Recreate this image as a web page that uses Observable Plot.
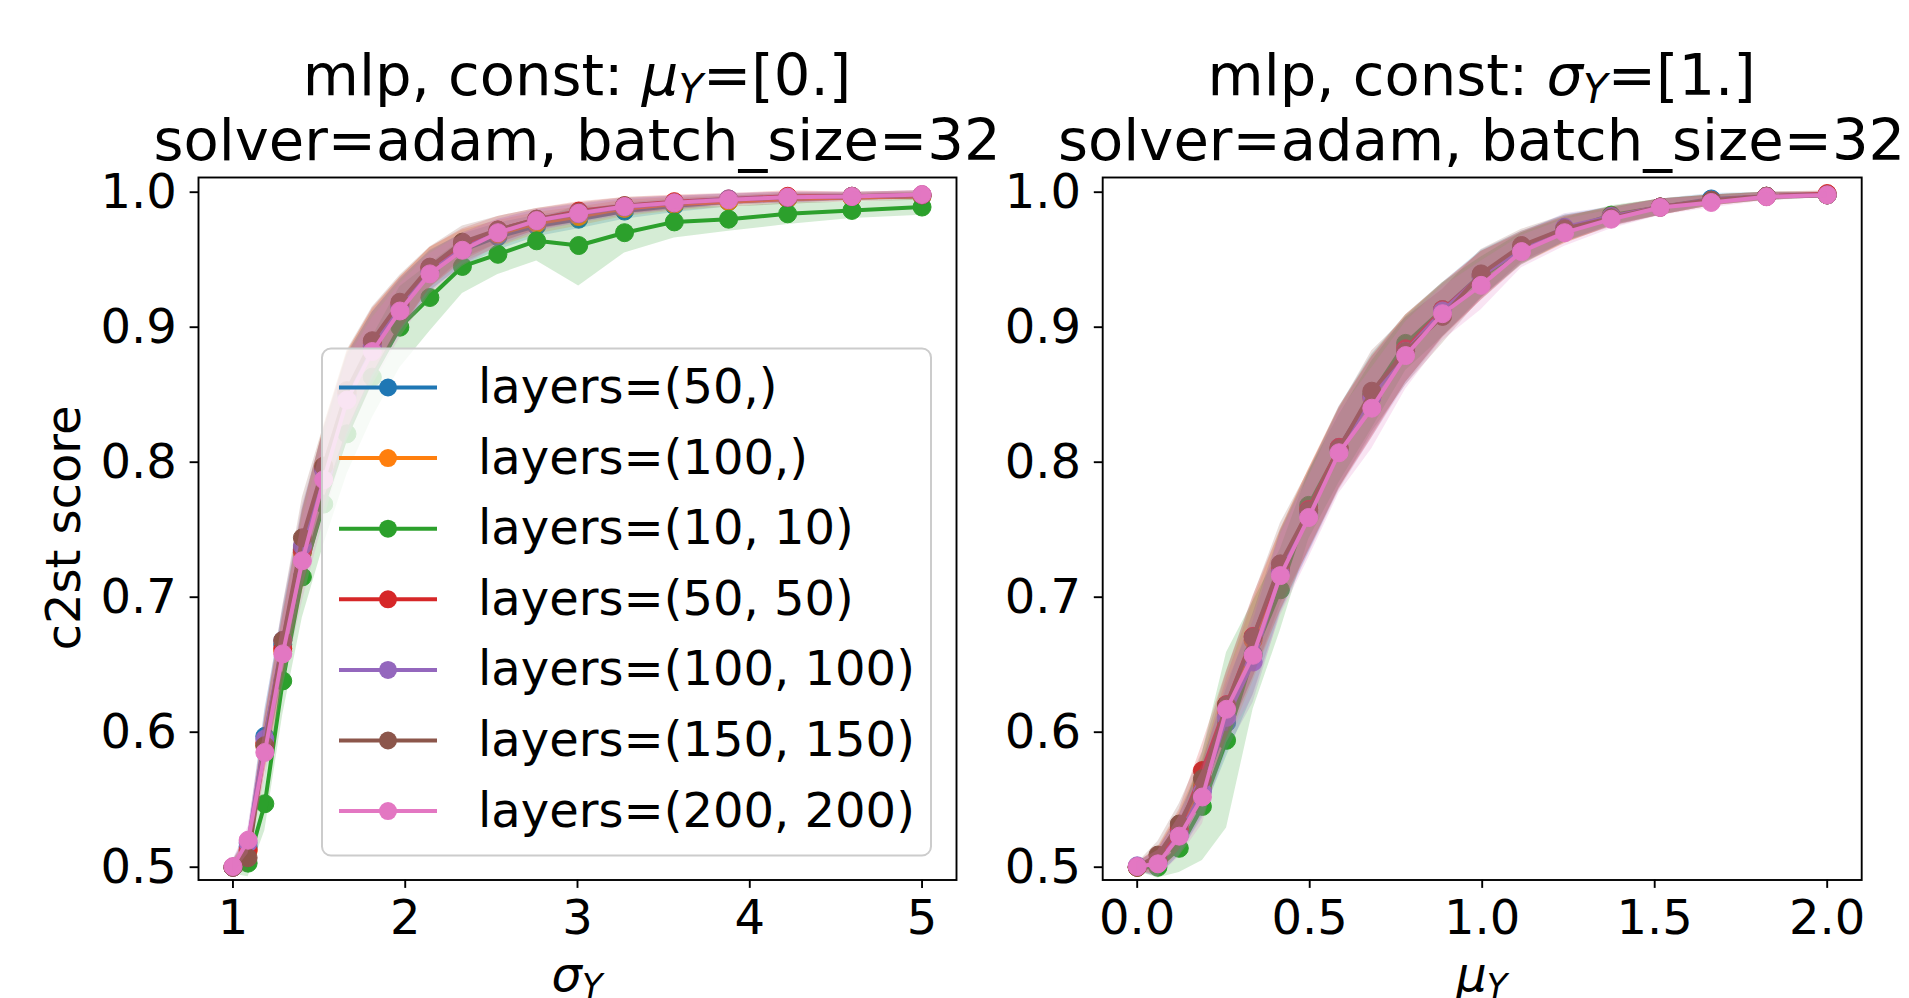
<!DOCTYPE html>
<html><head><meta charset="utf-8">
<script src="https://cdn.jsdelivr.net/npm/d3@7"></script>
<script src="https://cdn.jsdelivr.net/npm/@observablehq/plot@0.6"></script>
<style>
body{margin:0;background:#fff;}
#wrap{position:relative;width:1909px;height:998px;overflow:hidden;font-family:"DejaVu Sans";background:#fff;}
#wrap svg{position:absolute;top:0;}
</style></head><body><div id="wrap"></div>
<script>
// ---------- data ----------
const seriesNames = ["layers=(50,)", "layers=(100,)", "layers=(10, 10)", "layers=(50, 50)", "layers=(100, 100)", "layers=(150, 150)", "layers=(200, 200)"];
const seriesColors = ["#1f77b4", "#ff7f0e", "#2ca02c", "#d62728", "#9467bd", "#8c564b", "#e377c2"];

// left panel: x = sigma_Y
const sigmaY = [1, 1.088, 1.185, 1.289, 1.403, 1.527, 1.662, 1.809, 1.969, 2.143, 2.332, 2.538, 2.763, 3.007, 3.273, 3.562, 3.877, 4.220, 4.593, 5.0];
const left_50      = [0.500, 0.515, 0.597, 0.665, 0.735, 0.795, 0.850, 0.886, 0.915, 0.942, 0.957, 0.967, 0.975, 0.980, 0.986, 0.990, 0.993, 0.995, 0.996, 0.997];
const left_100     = [0.500, 0.512, 0.590, 0.660, 0.733, 0.797, 0.852, 0.888, 0.917, 0.944, 0.960, 0.969, 0.977, 0.982, 0.988, 0.991, 0.993, 0.995, 0.996, 0.997];
const left_10_10   = [0.500, 0.503, 0.547, 0.638, 0.715, 0.769, 0.821, 0.863, 0.900, 0.922, 0.945, 0.954, 0.964, 0.9605, 0.970, 0.978, 0.980, 0.984, 0.9865, 0.989];
const left_50_50   = [0.500, 0.513, 0.592, 0.662, 0.735, 0.795, 0.851, 0.889, 0.917, 0.944, 0.961, 0.972, 0.980, 0.986, 0.990, 0.993, 0.995, 0.997, 0.997, 0.998];
const left_100_100 = [0.500, 0.518, 0.595, 0.668, 0.738, 0.794, 0.849, 0.886, 0.916, 0.941, 0.958, 0.970, 0.979, 0.984, 0.989, 0.992, 0.995, 0.996, 0.997, 0.998];
const left_150_150 = [0.500, 0.507, 0.590, 0.668, 0.744, 0.797, 0.853, 0.890, 0.9185, 0.9445, 0.963, 0.972, 0.980, 0.985, 0.990, 0.992, 0.9945, 0.996, 0.997, 0.998];
const left_200_200 = [0.5005, 0.520, 0.585, 0.658, 0.727, 0.787, 0.846, 0.882, 0.912, 0.9395, 0.957, 0.970, 0.979, 0.9844, 0.9894, 0.9921, 0.9944, 0.9963, 0.9968, 0.9983];
const leftSd       = [0.005, 0.010, 0.020, 0.025, 0.030, 0.030, 0.030, 0.025, 0.020, 0.015, 0.012, 0.010, 0.008, 0.007, 0.006, 0.005, 0.004, 0.004, 0.003, 0.003];
const leftSdGreen  = [0.005, 0.010, 0.020, 0.025, 0.030, 0.030, 0.030, 0.030, 0.030, 0.025, 0.020, 0.015, 0.015, 0.030, 0.015, 0.012, 0.009, 0.008, 0.006, 0.006];

// right panel: x = mu_Y
const muY = [0, 0.060, 0.122, 0.189, 0.259, 0.336, 0.415, 0.497, 0.585, 0.680, 0.778, 0.885, 0.997, 1.114, 1.239, 1.374, 1.516, 1.664, 1.824, 2.0];
const right_50      = [0.500, 0.503, 0.524, 0.558, 0.607, 0.658, 0.719, 0.763, 0.811, 0.850, 0.884, 0.913, 0.939, 0.959, 0.973, 0.982, 0.989, 0.995, 0.997, 0.998];
const right_100     = [0.500, 0.504, 0.526, 0.560, 0.615, 0.668, 0.720, 0.765, 0.810, 0.849, 0.884, 0.912, 0.938, 0.958, 0.972, 0.982, 0.989, 0.994, 0.997, 0.998];
const right_10_10   = [0.500, 0.500, 0.514, 0.545, 0.594, 0.657, 0.7055, 0.768, 0.810, 0.850, 0.888, 0.913, 0.937, 0.958, 0.972, 0.983, 0.989, 0.994, 0.997, 0.998];
const right_50_50   = [0.500, 0.505, 0.528, 0.5716, 0.6205, 0.671, 0.720, 0.765, 0.811, 0.848, 0.884, 0.913, 0.938, 0.959, 0.972, 0.982, 0.989, 0.994, 0.997, 0.999];
const right_100_100 = [0.501, 0.503, 0.524, 0.556, 0.611, 0.652, 0.718, 0.762, 0.809, 0.848, 0.882, 0.912, 0.938, 0.958, 0.974, 0.982, 0.989, 0.994, 0.997, 0.998];
const right_150_150 = [0.500, 0.509, 0.532, 0.5655, 0.620, 0.6704, 0.7247, 0.764, 0.810, 0.8526, 0.882, 0.908, 0.9395, 0.9605, 0.973, 0.981, 0.989, 0.994, 0.997, 0.998];
const right_200_200 = [0.5005, 0.5025, 0.523, 0.552, 0.617, 0.657, 0.716, 0.759, 0.807, 0.840, 0.879, 0.910, 0.931, 0.956, 0.970, 0.980, 0.9887, 0.9924, 0.9966, 0.998];
const rightSd       = [0.003, 0.010, 0.015, 0.020, 0.025, 0.030, 0.030, 0.030, 0.030, 0.030, 0.025, 0.020, 0.018, 0.012, 0.010, 0.007, 0.006, 0.004, 0.003, 0.002];
const rightSdGreen  = [0.003, 0.008, 0.018, 0.040, 0.065, 0.040, 0.030, 0.025, 0.025, 0.025, 0.020, 0.020, 0.015, 0.012, 0.009, 0.007, 0.006, 0.004, 0.003, 0.002];

const xTicksLeft = [1, 2, 3, 4, 5];
const xTicksRight = [0, 0.5, 1, 1.5, 2];
const yTicks = [0.5, 0.6, 0.7, 0.8, 0.9, 1.0];

// ---------- build ----------
const leftSeries = [left_50, left_100, left_10_10, left_50_50, left_100_100, left_150_150, left_200_200];
const rightSeries = [right_50, right_100, right_10_10, right_50_50, right_100_100, right_150_150, right_200_200];

function rows(xs, ys, sd) {
  return xs.map((x, j) => ({x, y: ys[j], lo: ys[j] - sd[j], hi: ys[j] + sd[j]}));
}

const FS = 48;
function panel(xs, series, sd, sdGreen, xDomain, xTicks, xFmt, width, mL, mR) {
  const marks = [];
  series.forEach((ys, i) => {
    const data = rows(xs, ys, i === 2 ? sdGreen : sd);
    const c = seriesColors[i];
    marks.push(Plot.line(data, {x: "x", y: "y", stroke: c, strokeWidth: 4}));
    marks.push(Plot.dot(data, {x: "x", y: "y", r: 9, fill: c, stroke: c, strokeWidth: 1}));
    marks.push(Plot.areaY(data, {x: "x", y1: "lo", y2: "hi", fill: c, fillOpacity: 0.2}));
  });
  marks.push(Plot.axisX({ticks: xTicks, tickFormat: xFmt, tickSize: 8.4, tickPadding: 12, fontSize: FS, strokeWidth: 1.9, label: null}));
  marks.push(Plot.axisY({ticks: yTicks, tickFormat: d3.format(".1f"), tickSize: 8.4, tickPadding: 13.2, fontSize: FS, strokeWidth: 1.9, label: null}));
  marks.push(Plot.frame({stroke: "black", strokeWidth: 1.9}));
  return Plot.plot({
    width, height: 998,
    marginLeft: mL, marginRight: mR, marginTop: 177, marginBottom: 118.5,
    style: {background: "transparent", fontFamily: "DejaVu Sans", color: "black", maxWidth: "none", overflow: "visible"},
    x: {domain: xDomain},
    y: {domain: [0.49052, 1.01089]},
    marks
  });
}

const wrap = document.getElementById("wrap");
const p1 = panel(sigmaY, leftSeries, leftSd, leftSdGreen, [0.8, 5.2], xTicksLeft, d => String(d), 980, 198, 24);
p1.style.left = "0px";
wrap.appendChild(p1);
const p2 = panel(muY, rightSeries, rightSd, rightSdGreen, [-0.1, 2.1], xTicksRight, d3.format(".1f"), 929, 122.2, 47.8);
p2.style.left = "980px";
wrap.appendChild(p2);

// ---------- overlay: titles, labels, legend ----------
const ov = d3.select(wrap).append("svg")
  .attr("width", 1909).attr("height", 998)
  .style("left", "0px")
  .attr("font-family", "DejaVu Sans");

function mathText(x, y, fs, pre, sym, post, anchor) {
  const t = ov.append("text").attr("x", x).attr("y", y).attr("text-anchor", anchor || "middle").attr("font-size", fs).attr("fill", "black");
  if (pre) t.append("tspan").text(pre);
  t.append("tspan").attr("font-style", "italic").text(sym);
  t.append("tspan").attr("font-style", "italic").attr("font-size", fs * 0.7).attr("dy", fs * 0.14).text("Y");
  t.append("tspan").attr("dy", -fs * 0.14).text(post || "");
  return t;
}

const TFS = 57.6;
const cxL = 577, cxR = 1481.7;
mathText(cxL, 95, TFS, "mlp, const: ", "μ", "=[0.]");
ov.append("text").attr("x", cxL).attr("y", 160).attr("text-anchor", "middle").attr("font-size", TFS).text("solver=adam, batch_size=32");
mathText(cxR, 95, TFS, "mlp, const: ", "σ", "=[1.]");
ov.append("text").attr("x", cxR).attr("y", 160).attr("text-anchor", "middle").attr("font-size", TFS).text("solver=adam, batch_size=32");

// axis labels
mathText(cxL, 991, FS, "", "σ", "");
mathText(cxR, 991, FS, "", "μ", "");
ov.append("text").attr("transform", "translate(80,528) rotate(-90)").attr("text-anchor", "middle").attr("font-size", FS).text("c2st score");

// legend
const lg = ov.append("g");
lg.append("rect").attr("x", 322).attr("y", 348.5).attr("width", 609).attr("height", 507).attr("rx", 9)
  .attr("fill", "white").attr("fill-opacity", 0.8).attr("stroke", "#cccccc").attr("stroke-width", 2);
seriesNames.forEach((name, i) => {
  const yy = 387.5 + i * 70.6;
  lg.append("line").attr("x1", 339).attr("x2", 437).attr("y1", yy).attr("y2", yy).attr("stroke", seriesColors[i]).attr("stroke-width", 4);
  lg.append("circle").attr("cx", 388).attr("cy", yy).attr("r", 9).attr("fill", seriesColors[i]);
  lg.append("text").attr("x", 478).attr("y", yy + 15.5).attr("font-size", FS).text(name);
});
</script></body></html>
